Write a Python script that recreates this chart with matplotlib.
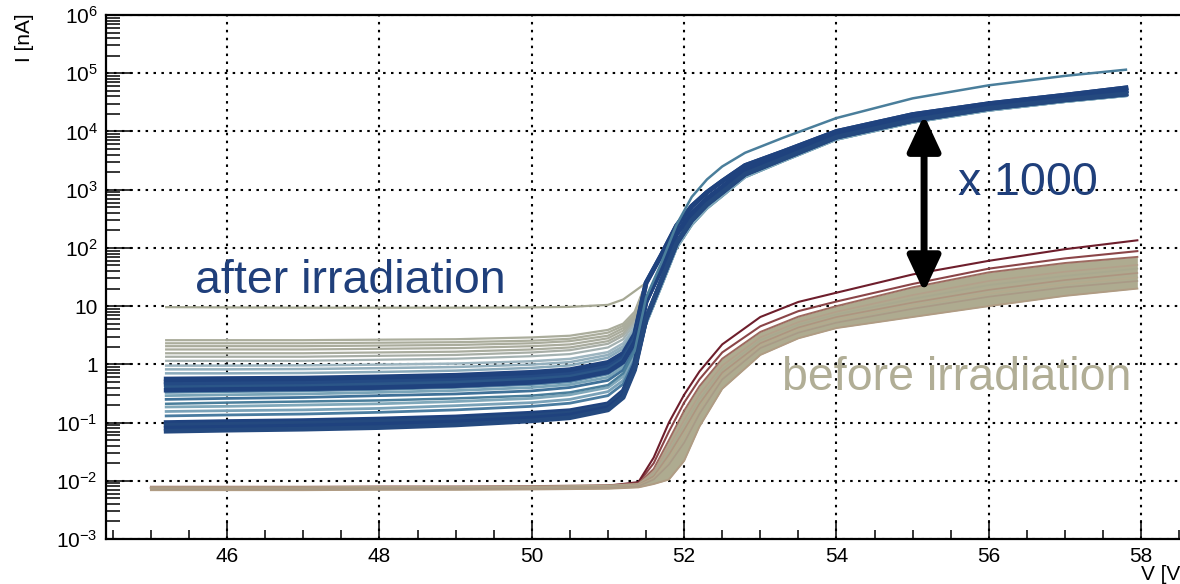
import matplotlib
matplotlib.use("Agg")
import matplotlib.pyplot as plt
from matplotlib.patches import FancyArrowPatch
from matplotlib.ticker import FixedLocator, MultipleLocator, LogLocator, NullFormatter

plt.rcParams['font.family'] = ['Liberation Sans', 'DejaVu Sans']
plt.rcParams['mathtext.fontset'] = 'custom'
plt.rcParams['mathtext.rm'] = 'Liberation Sans'
plt.rcParams['mathtext.it'] = 'Liberation Sans:italic'
plt.rcParams['mathtext.bf'] = 'Liberation Sans:bold'

# ---------------- data ----------------
x_ticks = [46, 48, 50, 52, 54, 56, 58]
y_ticks = [1e-3, 1e-2, 1e-1, 1, 10, 1e2, 1e3, 1e4, 1e5, 1e6]
y_ticklabels = [r'$10^{-3}$', r'$10^{-2}$', r'$10^{-1}$', '1', '10',
                r'$10^{2}$', r'$10^{3}$', r'$10^{4}$', r'$10^{5}$', r'$10^{6}$']

# after irradiation: pre-breakdown part of each curve + shared post-breakdown shapes
V_after_pre = [45.2, 46.0, 47.0, 48.0, 49.0, 50.0, 50.5, 51.0, 51.2, 51.35]
V_after_post = [51.5, 51.7, 51.9, 52.1, 52.3, 52.5, 52.8, 53.3, 54.0, 55.0, 56.0, 57.0, 57.8]

after_post = {
    'top': [25, 75, 240, 520, 900, 1400, 2600, 4500, 10000, 19500, 30000, 42000, 56000],
    'mid': [12, 44, 175, 390, 700, 1100, 2200, 3900, 9000, 17500, 27500, 39000, 50000],
    'low': [6, 27, 120, 300, 560, 900, 1850, 3400, 8000, 15500, 25000, 35000, 44000],
    'edge': [5, 22, 100, 250, 480, 780, 1650, 3100, 7300, 14300, 23000, 32500, 41000],
    'out': [14, 55, 250, 750, 1500, 2500, 4300, 7800, 17000, 37000, 62000, 90000, 115000],
}

after_pre = [
    [9.6, 9.5, 9.4, 9.4, 9.4, 9.5, 9.7, 10.5, 13.0, 18.0],
    [2.6, 2.6, 2.6, 2.65, 2.7, 2.9, 3.1, 3.9, 5.0, 8.0],
    [2.3, 2.3, 2.3, 2.35, 2.4, 2.55, 2.75, 3.5, 4.6, 7.2],
    [2.05, 2.05, 2.05, 2.1, 2.15, 2.3, 2.5, 3.1, 4.2, 6.7],
    [1.8, 1.8, 1.8, 1.85, 1.9, 2.05, 2.2, 2.8, 3.8, 6.2],
    [1.55, 1.55, 1.55, 1.6, 1.65, 1.8, 1.95, 2.5, 3.4, 5.8],
    [1.35, 1.35, 1.35, 1.4, 1.45, 1.6, 1.75, 2.25, 3.1, 5.4],
    [1.15, 1.15, 1.15, 1.2, 1.25, 1.38, 1.5, 1.95, 2.7, 5.0],
    [0.95, 0.95, 0.96, 0.99, 1.03, 1.13, 1.24, 1.62, 2.3, 4.4],
    [0.82, 0.82, 0.83, 0.86, 0.9, 0.99, 1.09, 1.45, 2.05, 4.0],
    [0.7, 0.7, 0.71, 0.74, 0.78, 0.87, 0.96, 1.3, 1.85, 3.7],
    [0.33, 0.34, 0.35, 0.37, 0.4, 0.45, 0.5, 0.68, 1.0, 2.2],
    [0.29, 0.3, 0.31, 0.33, 0.355, 0.4, 0.45, 0.6, 0.9, 2.0],
    [0.25, 0.26, 0.27, 0.29, 0.31, 0.35, 0.4, 0.53, 0.8, 1.85],
    [0.185, 0.19, 0.2, 0.21, 0.23, 0.26, 0.3, 0.4, 0.62, 1.55],
    [0.155, 0.16, 0.165, 0.175, 0.195, 0.22, 0.25, 0.34, 0.53, 1.35],
    [0.13, 0.135, 0.14, 0.15, 0.165, 0.19, 0.215, 0.29, 0.46, 1.2],
    [0.56, 0.57, 0.58, 0.61, 0.65, 0.73, 0.81, 1.08, 1.55, 3.3],
    [0.5, 0.51, 0.52, 0.55, 0.59, 0.66, 0.74, 0.99, 1.42, 3.05],
    [0.45, 0.46, 0.47, 0.5, 0.53, 0.6, 0.67, 0.9, 1.3, 2.8],
    [0.4, 0.41, 0.42, 0.45, 0.48, 0.55, 0.61, 0.82, 1.2, 2.6],
    [0.36, 0.37, 0.38, 0.4, 0.43, 0.49, 0.55, 0.74, 1.1, 2.4],
    [0.1, 0.104, 0.108, 0.115, 0.125, 0.145, 0.16, 0.21, 0.35, 1.0],
    [0.09, 0.093, 0.097, 0.104, 0.113, 0.131, 0.146, 0.195, 0.32, 0.93],
    [0.08, 0.083, 0.087, 0.093, 0.102, 0.119, 0.134, 0.18, 0.29, 0.86],
    [0.071, 0.074, 0.077, 0.082, 0.091, 0.107, 0.121, 0.165, 0.27, 0.8],
    [0.21, 0.22, 0.23, 0.24, 0.26, 0.29, 0.33, 0.44, 0.7, 1.7],
]
after_shape = ['top', 'top', 'top', 'top', 'top', 'top', 'mid', 'mid', 'mid', 'mid', 'mid',
               'edge', 'edge', 'low', 'edge', 'low', 'low',
               'top', 'top', 'mid', 'mid', 'mid',
               'mid', 'low', 'low', 'low', 'out']
after_colors = ['#a6a894', '#abad9c', '#abad9c', '#aaac9c', '#aaac9d', '#a9ac9e', '#a8aea6',
                '#a4b2b2', '#9db5c0', '#93afbd', '#8aaabb',
                '#5d8caa', '#7aa4b8', '#3f7198', '#80a8ba', '#7aa2b8', '#4a7ca0',
                '#1f427e', '#1f427e', '#244a84', '#2b5688', '#1f427e',
                '#1f427e', '#24497f', '#1f427e', '#24497f', '#4a7e9b']
after_lw = [1.6, 1.6, 1.6, 1.6, 1.6, 1.6, 1.6, 1.6, 1.8, 1.8, 1.8,
            2.0, 2.0, 2.0, 2.0, 2.0, 2.0,
            3.4, 3.4, 3.4, 3.0, 3.4,
            3.4, 3.4, 3.4, 3.4, 1.8]

# before irradiation
V_before = [45.0, 46.0, 47.0, 48.0, 49.0, 50.0, 51.0, 51.4, 51.6, 51.8, 52.0, 52.2,
            52.5, 53.0, 53.5, 54.0, 55.0, 56.0, 57.0, 57.95]
before_band_top = [0.0079, 0.0079, 0.0079, 0.008, 0.008, 0.0081, 0.0084, 0.009, 0.016, 0.05,
                   0.16, 0.42, 1.25, 3.6, 6.6, 10, 21, 38, 55, 70]
before_band_bottom = [0.0069, 0.0069, 0.0069, 0.007, 0.007, 0.0071, 0.0073, 0.0077, 0.0088, 0.0105,
                      0.022, 0.085, 0.38, 1.45, 2.8, 4.2, 6.5, 10, 15, 20]
before_maroon = [
    [0.0075, 0.0075, 0.0075, 0.0076, 0.0076, 0.0077, 0.008, 0.0092, 0.02, 0.07,
     0.22, 0.55, 1.6, 4.5, 8.2, 12, 24, 44, 66, 88],
    [0.0076, 0.0076, 0.0076, 0.0077, 0.0077, 0.0078, 0.0082, 0.0095, 0.025, 0.1,
     0.3, 0.75, 2.2, 6.5, 11.8, 17, 35, 60, 95, 135],
]
before_maroon_colors = ['#8b4548', '#6e1e2c']
before_lines = [
    [0.0078, 0.0078, 0.0078, 0.0079, 0.0079, 0.008, 0.0083, 0.0088, 0.014, 0.038,
     0.11, 0.3, 0.95, 2.9, 5.3, 8, 15.5, 27, 39, 51],
    [0.0076, 0.0076, 0.0076, 0.0077, 0.0077, 0.0078, 0.0081, 0.0087, 0.013, 0.032,
     0.09, 0.25, 0.82, 2.6, 4.8, 7.2, 13.3, 23, 33, 44],
    [0.0075, 0.0075, 0.0075, 0.0076, 0.0076, 0.0077, 0.0079, 0.0085, 0.012, 0.028,
     0.075, 0.21, 0.72, 2.3, 4.3, 6.5, 11.5, 19, 28, 37],
    [0.0073, 0.0073, 0.0073, 0.0074, 0.0074, 0.0075, 0.0077, 0.0083, 0.011, 0.023,
     0.058, 0.17, 0.62, 2.1, 3.9, 5.8, 10.2, 16.5, 24, 31],
    [0.0072, 0.0072, 0.0072, 0.0073, 0.0073, 0.0074, 0.0076, 0.0081, 0.0105, 0.019,
     0.045, 0.14, 0.55, 1.9, 3.5, 5.2, 9, 14.5, 21, 27],
]
before_line_colors = ['#b3a08a', '#a9a88f', '#ad9580', '#b4a98d', '#a99a86']

arrow_x = 55.15
arrow_top = 19000
arrow_bottom = 17.5

# ---------------- figure ----------------
W, H = 1180, 584
fig = plt.figure(figsize=(W / 100, H / 100), dpi=100)
ax = fig.add_axes([106 / W, 45 / H, (W - 106) / W, (539 - 15) / H])

ax.set_yscale('log')
ax.set_xlim(44.41, 58.51)
ax.set_ylim(1e-3, 1e6)

# before irradiation
for vals, c in zip(before_maroon, before_maroon_colors):
    ax.plot(V_before, vals, color=c, lw=1.5, zorder=2)
ax.fill_between(V_before, before_band_bottom, before_band_top, color='#aeab90', lw=0, zorder=2.5)
ax.plot(V_before, before_band_top, color='#9d6a60', lw=1.4, zorder=3)
ax.plot(V_before, before_band_bottom, color='#b09c84', lw=1.4, zorder=3)
for vals, c in zip(before_lines, before_line_colors):
    ax.plot(V_before, vals, color=c, lw=1.2, zorder=3)

# after irradiation
for pre, shape, c, lw in zip(after_pre, after_shape, after_colors, after_lw):
    ax.plot(V_after_pre + V_after_post, pre + after_post[shape], color=c, lw=lw,
            solid_joinstyle='round', zorder=4)

# axes styling
ax.xaxis.set_major_locator(FixedLocator(x_ticks))
ax.xaxis.set_minor_locator(MultipleLocator(0.5))
ax.yaxis.set_major_locator(FixedLocator(y_ticks))
ax.set_yticklabels(y_ticklabels)
ax.yaxis.set_minor_locator(LogLocator(base=10, subs=range(2, 10), numticks=20))
ax.yaxis.set_minor_formatter(NullFormatter())

ax.tick_params(axis='both', which='both', direction='in', width=1.1, labelsize=15,
               colors='black', pad=6, top=False, right=False)
ax.tick_params(axis='x', which='major', length=14)
ax.tick_params(axis='x', which='minor', length=6.5)
ax.tick_params(axis='y', which='major', length=19.5)
ax.tick_params(axis='y', which='minor', length=10)

for s in ['left', 'bottom', 'top']:
    ax.spines[s].set_linewidth(1.6)
ax.spines['right'].set_visible(False)

ax.grid(True, which='major', color='black', linestyle=(0, (1.2, 2.6)), linewidth=1.5, zorder=1)
ax.set_axisbelow(True)

# arrow
arr = FancyArrowPatch((arrow_x, arrow_bottom), (arrow_x, arrow_top),
                      arrowstyle='<|-|>,head_length=0.9,head_width=0.42',
                      mutation_scale=24, lw=5, color='black',
                      shrinkA=0, shrinkB=0, zorder=6)
ax.add_patch(arr)

# annotations
ax.text(45.58, 16.8, 'after irradiation', color='#1f3f7b', fontsize=33.5,
        ha='left', va='baseline', zorder=7)
ax.text(55.59, 809, 'x 1000', color='#1f3f7b', fontsize=33.5,
        ha='left', va='baseline', zorder=7)
ax.text(53.28, 0.362, 'before irradiation', color='#b1ae96', fontsize=33.5,
        ha='left', va='baseline', zorder=7)

fig.text(25 / W, 1 - 13 / H, 'I [nA]', rotation=90, ha='center', va='top', fontsize=15)
fig.text(1141 / W, 1 - 565 / H, 'V [V]', ha='left', va='top', fontsize=15)

fig.savefig('out.png', dpi=100)
